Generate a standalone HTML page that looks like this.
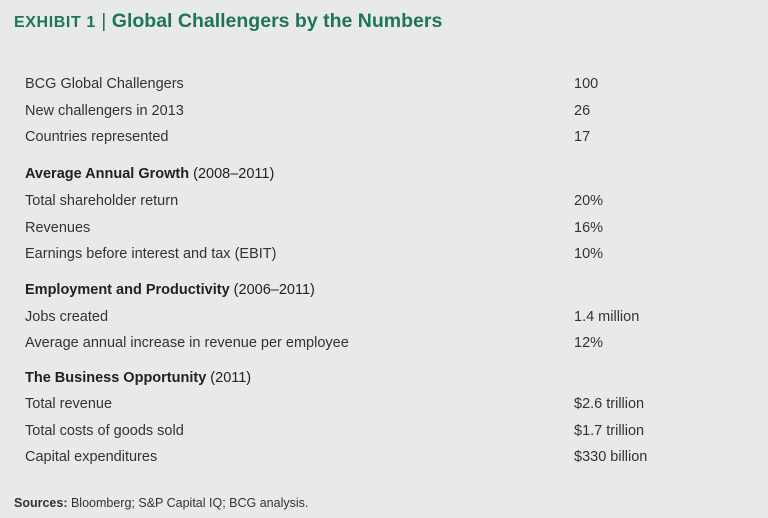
<!DOCTYPE html>
<html><head><meta charset="utf-8"><style>
body{margin:0;width:768px;height:518px;background:#e8e9eb;font-family:"Liberation Sans",sans-serif;color:#333;position:relative;overflow:hidden}
.t{position:absolute;white-space:nowrap;line-height:20px;font-size:14.5px}
.h{font-weight:bold;color:#222}
.h span{font-weight:normal}
#title{position:absolute;left:14px;top:10px;font-size:19.5px;font-weight:bold;color:#1f7650;white-space:nowrap}
#src{position:absolute;left:14px;top:496px;font-size:12.5px;color:#333;white-space:nowrap}
</style></head><body>
<div id="title"><span style="font-size:16px;letter-spacing:0.6px">EXHIBIT 1</span> <span style="font-weight:normal">|</span> Global Challengers by the Numbers</div>
<div id="rows"></div>
<div id="src"><b>Sources:</b> Bloomberg; S&amp;P Capital IQ; BCG analysis.</div>
<script>
const labels=["BCG Global Challengers","New challengers in 2013","Countries represented","H|Average Annual Growth|(2008–2011)","Total shareholder return","Revenues","Earnings before interest and tax (EBIT)","H|Employment and Productivity|(2006–2011)","Jobs created","Average annual increase in revenue per employee","H|The Business Opportunity|(2011)","Total revenue","Total costs of goods sold","Capital expenditures"];
const values=["100","26","17","","20%","16%","10%","","1.4 million","12%","","$2.6 trillion","$1.7 trillion","$330 billion"];
const ys=[83,110,136,173,200,227,253,289,316,342,377,403,430,456];
const root=document.getElementById('rows');
labels.forEach((l,i)=>{
  const d=document.createElement('div');
  d.className='t';d.style.left='25px';d.style.top=(ys[i]-9)+'px';
  if(l.startsWith('H|')){const p=l.split('|');d.classList.add('h');d.innerHTML=p[1]+' <span>'+p[2]+'</span>';
    }
  else{d.textContent=l;
    }
  
  root.appendChild(d);
  if(values[i]){const v=document.createElement('div');v.className='t';v.style.left='574px';v.style.top=(ys[i]-9)+'px';v.textContent=values[i];
    
    
    root.appendChild(v);}
});
</script>
</body></html>
